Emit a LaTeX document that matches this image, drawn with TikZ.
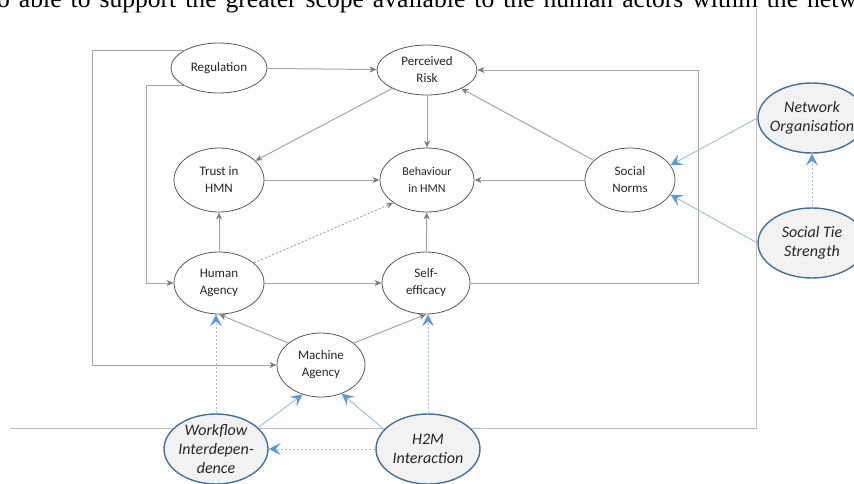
\documentclass[tikz,border=0pt]{standalone}
\usepackage{fontspec}
\setmainfont{Carlito}
\newfontfamily\bodyserif{Liberation Serif}
\usetikzlibrary{shapes.geometric,arrows.meta}
\definecolor{linegray}{HTML}{A6A6A6}
\definecolor{tipgray}{HTML}{7F7F7F}
\definecolor{rimgray}{HTML}{595959}
\definecolor{framegray}{HTML}{BFBFBF}
\definecolor{linkblue}{HTML}{9DC3E6}
\definecolor{tipblue}{HTML}{5B9BD5}
\definecolor{rimblue}{HTML}{41719C}
\definecolor{fillgray}{HTML}{F2F2F2}
\tikzset{
	factor/.style={ellipse,draw=rimgray,line width=0.8pt,inner sep=0pt,align=center,
		text=black!85,font=\fontsize{13}{17}\selectfont},
	context/.style={ellipse,draw=rimblue,fill=fillgray,line width=1.4pt,inner xsep=-10pt,
		inner ysep=-3pt,align=center,text=black!85,font=\fontsize{16}{19}\selectfont\itshape},
	link/.style={draw=linegray,line width=1pt,-{Stealth[length=7pt,width=6pt,inset=2pt,color=tipgray]}},
	effect/.style={draw=linkblue,line width=1pt,-{Stealth[length=12pt,width=12pt,inset=5pt,color=tipblue]}},
	hint/.style={dash pattern=on 2pt off 2pt}
}
\begin{document}
\begin{tikzpicture}[x=1pt,y=-1pt]
	\useasboundingbox (0,0) rectangle (854,483);
	\node[anchor=base west,inner sep=0pt,font={\bodyserif\fontsize{25.6}{30}\selectfont\spaceskip=9pt\relax}] (pagetext) at (-3,7)
		{o able to support the greater scope available to the human actors within the netw};
	\draw[framegray,line width=1pt] (756,8) -- (756,428) -- (10,428);

	\node[factor,minimum width=96pt,minimum height=50pt] (reg) at (219,68) {Regulation};
	\node[factor,minimum width=100pt,minimum height=50pt] (risk) at (427,70) {Perceived\\Risk};
	\node[factor,minimum width=90pt,minimum height=64pt] (trust) at (219,180) {Trust in\\HMN};
	\node[factor,minimum width=94pt,minimum height=64pt,font=\fontsize{12}{17}\selectfont] (behav) at (427,180) {Behaviour\\in HMN};
	\node[factor,minimum width=90pt,minimum height=64pt] (norms) at (630,180) {Social\\Norms};
	\node[factor,minimum width=90pt,minimum height=62pt] (human) at (219,283) {Human\\Agency};
	\node[factor,minimum width=88pt,minimum height=62pt] (self) at (426,283) {Self-\\efficacy};
	\node[factor,minimum width=88pt,minimum height=64pt] (machine) at (321,365) {Machine\\Agency};
	\node[context,minimum width=108pt,minimum height=70pt] (netorg) at (812,118) {Network\\Organisation};
	\node[context,minimum width=108pt,minimum height=70pt] (tie) at (812,243) {Social Tie\\Strength};
	\node[context,minimum width=104pt,minimum height=70pt] (workflow) at (216,449) {Workflow\\Interdepen-\\dence};
	\node[context,minimum width=104pt,minimum height=70pt] (h2m) at (428,449) {H2M\\Interaction};

	\coordinate (outer) at (92,365);
	\coordinate (inner) at (146,283);
	\coordinate (right) at (698,70);

	\draw[link] (reg) -- (risk);
	\draw[link] (risk) -- (trust);
	\draw[link] (risk) -- (behav);
	\draw[link] (norms) -- (risk);
	\draw[link] (norms) -- (behav);
	\draw[link] (trust) -- (behav);
	\draw[link] (human) -- (trust);
	\draw[link] (self) -- (behav);
	\draw[link,hint] (human.30) -- (behav.214);
	\draw[link] (human) -- (self);
	\draw[link] (machine.146) -- (human.south);
	\draw[link] (machine.34) -- (self.south);
	\draw[link] (reg.north west) -| (outer) -- (machine.west);
	\draw[link] (reg.south west) -| (inner) -- (human.west);
	\draw[link] (self.east) -| (right) -- (risk.east);

	\draw[effect] (netorg.west) -- (norms.20);
	\draw[effect] (tie.west) -- (norms.-20);
	\draw[effect,hint,{Stealth[length=12pt,width=12pt,inset=5pt,color=tipblue]}-] (netorg.south) -- (tie.north);
	\draw[effect,hint] (workflow.north) -- (workflow.north |- human.south);
	\draw[effect] (workflow.27) -- (machine.238);
	\draw[effect] (h2m.156) -- (machine.306);
	\draw[effect,hint] (h2m.north) -- (h2m.north |- self.south);
	\draw[effect,hint] (h2m.west) -- (workflow.east);
\end{tikzpicture}
\end{document}
